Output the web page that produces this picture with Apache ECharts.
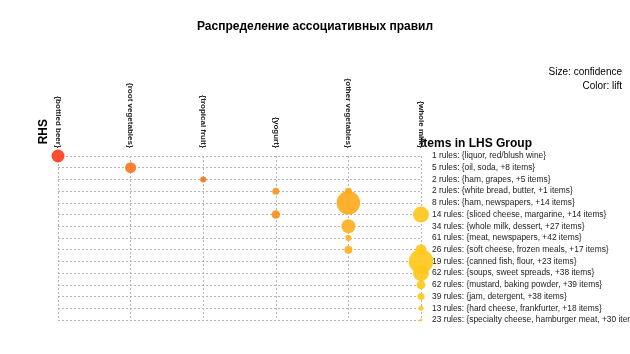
<!DOCTYPE html>
<html>
<head>
<meta charset="utf-8">
<script src="https://cdn.jsdelivr.net/npm/echarts@6/dist/echarts.min.js"></script>
<style>
  html, body { margin: 0; padding: 0; background: #fff; }
  #chart { width: 630px; height: 354px; }
</style>
</head>
<body>
<div id="chart"></div>
<script>
// RHS-элементы (столбцы)
const rhsItems = ['{bottled beer}', '{root vegetables}', '{tropical fruit}', '{yogurt}', '{other vegetables}', '{whole milk}'];

// группы LHS (строки)
const lhsGroups = [
  '1 rules: {liquor, red/blush wine}',
  '5 rules: {oil, soda, +8 items}',
  '2 rules: {ham, grapes, +5 items}',
  '2 rules: {white bread, butter, +1 items}',
  '8 rules: {ham, newspapers, +14 items}',
  '14 rules: {sliced cheese, margarine, +14 items}',
  '34 rules: {whole milk, dessert, +27 items}',
  '61 rules: {meat, newspapers, +42 items}',
  '26 rules: {soft cheese, frozen meals, +17 items}',
  '19 rules: {canned fish, flour, +23 items}',
  '62 rules: {soups, sweet spreads, +38 items}',
  '62 rules: {mustard, baking powder, +39 items}',
  '39 rules: {jam, detergent, +38 items}',
  '13 rules: {hard cheese, frankfurter, +18 items}',
  '23 rules: {specialty cheese, hamburger meat, +30 items}'
];

// ячейки: [столбец RHS, строка LHS]
const cells = [
  [0, 0], [1, 1], [2, 2], [3, 3], [4, 3], [4, 4], [3, 5], [5, 5],
  [4, 6], [4, 7], [4, 8], [5, 8], [5, 9], [5, 10], [5, 11], [5, 12], [5, 13], [5, 14]
];
const confidence = [
  0.52, 0.44, 0.24, 0.28, 0.28, 0.94, 0.34, 0.64,
  0.56, 0.24, 0.32, 0.44, 0.98, 0.64, 0.36, 0.28, 0.2, 0.12
];
const lift = [
  10.0, 6.6, 6.8, 4.6, 3.6, 3.3, 5.0, 1.6,
  3.0, 3.0, 3.0, 1.6, 1.7, 1.6, 1.5, 1.5, 1.5, 1.5
];

const chart = echarts.init(document.getElementById('chart'));
const FONT = 'Liberation Sans, Arial, sans-serif';

const data = cells.map((c, i) => [c[0], c[1], confidence[i], lift[i]]);

chart.setOption({
  animation: false,
  textStyle: { fontFamily: FONT },
  title: {
    text: 'Распределение ассоциативных правил',
    left: 'center', top: 16,
    textStyle: { fontSize: 12, fontWeight: 'bold', color: '#000', fontFamily: FONT }
  },
  grid: { left: 58, right: 209, top: 156, bottom: 34, outerBoundsMode: 'none', containLabel: false },
  xAxis: {
    type: 'category', data: rhsItems, position: 'top', boundaryGap: false,
    axisLine: { show: false }, axisTick: { show: false },
    axisLabel: { rotate: 90, interval: 0, fontSize: 8, fontWeight: 'bold', color: '#222', margin: 8, fontFamily: FONT },
    splitLine: { show: true, lineStyle: { type: [2, 2], color: '#b5b5b5', width: 1 } }
  },
  yAxis: {
    type: 'category', data: lhsGroups, inverse: true, position: 'right', boundaryGap: false,
    axisLine: { show: false }, axisTick: { show: false },
    axisLabel: { interval: 0, fontSize: 8.4, color: '#222', margin: 11, align: 'left', fontFamily: FONT },
    splitLine: { show: true, lineStyle: { type: [2, 2], color: '#b5b5b5', width: 1 } }
  },
  visualMap: {
    show: false, dimension: 3, min: 1, max: 10,
    inRange: { color: ['#ffd21a', '#ffaa1a', '#f8861a', '#f8661a', '#ff3a1a'] }
  },
  series: [{
    type: 'scatter',
    data: data,
    symbolSize: d => d[2] * 25,
    itemStyle: { opacity: 0.9 }
  }],
  graphic: [
    { type: 'text', left: 38, top: 119, rotation: Math.PI / 2,
      style: { text: 'RHS', font: 'bold 12px ' + FONT, fill: '#000' } },
    { type: 'text', left: 420, top: 138,
      style: { text: 'Items in LHS Group', font: 'bold 12px ' + FONT, fill: '#000' } },
    { type: 'text', right: 8, top: 67,
      style: { text: 'Size: confidence', font: '10px ' + FONT, fill: '#000', align: 'right' } },
    { type: 'text', right: 8, top: 81,
      style: { text: 'Color: lift', font: '10px ' + FONT, fill: '#000', align: 'right' } }
  ]
});
</script>
</body>
</html>
